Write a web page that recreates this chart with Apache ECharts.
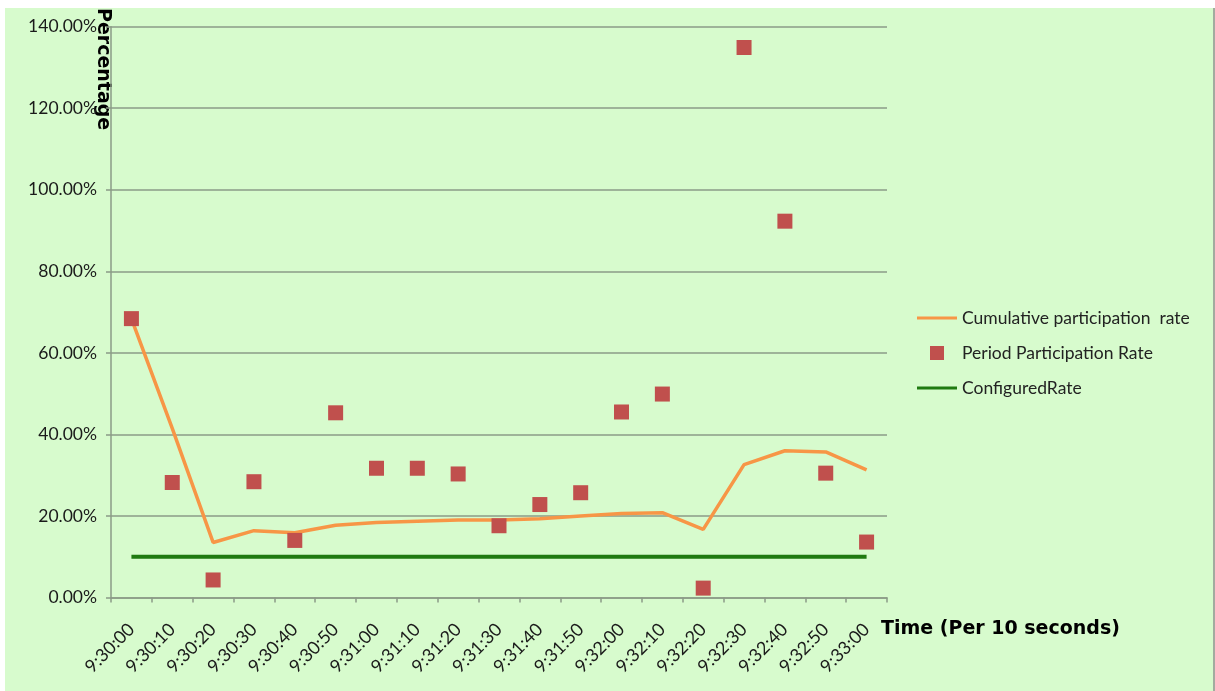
<!DOCTYPE html>
<html>
<head>
<meta charset="utf-8">
<script src="https://cdn.jsdelivr.net/npm/echarts@6/dist/echarts.min.js"></script>
<style>
  html, body { margin: 0; padding: 0; background: #ffffff; }
  #chart {
    position: absolute; left: 5px; top: 8px;
    width: 1208px; height: 683px;
    background: #d7fbcd;
    border-right: 2px solid #a3ab9f;
  }
</style>
</head>
<body>
<div id="chart"></div>
<script>
// Time buckets (10 s each)
const categories = ['9:30:00','9:30:10','9:30:20','9:30:30','9:30:40','9:30:50','9:31:00','9:31:10','9:31:20','9:31:30',
                    '9:31:40','9:31:50','9:32:00','9:32:10','9:32:20','9:32:30','9:32:40','9:32:50','9:33:00'];
// Participation rates, in percent
const cumulativeRate = [68.4, 41.5, 13.5, 16.4, 15.9, 17.7, 18.4, 18.7, 19.0, 19.0, 19.3, 20.0, 20.6, 20.8, 16.7, 32.6, 36.0, 35.7, 31.3];
const periodRate     = [68.4, 28.2, 4.3, 28.4, 14.0, 45.3, 31.7, 31.7, 30.3, 17.6, 22.8, 25.7, 45.5, 49.9, 2.3, 134.9, 92.3, 30.5, 13.6];
const configuredRate = [10, 10, 10, 10, 10, 10, 10, 10, 10, 10, 10, 10, 10, 10, 10, 10, 10, 10, 10];
// Value axis range and step (percent)
const yMin = 0, yMax = 140, yStep = 20;

const seriesNames = ['Cumulative participation  rate', 'Period Participation Rate', 'ConfiguredRate'];

const labelFont = 'Lato, "Open Sans", sans-serif';
const axisColor = '#8b9b87';

// legend glyphs: a flat bar for the lines, a small square for the points
const lineIcon = 'path://M0,0 L40,0 L40,3 L0,3 Z';
const squareIcon = 'path://M0,0 L1,0 L1,1 L0,1 Z';

const chart = echarts.init(document.getElementById('chart'));
chart.setOption({
  animation: false,
  grid: { left: 106, top: 18.7, right: 326, bottom: 93.5, containLabel: false },
  xAxis: {
    type: 'category',
    data: categories,
    boundaryGap: true,
    axisLine: { lineStyle: { color: axisColor, width: 1.5 } },
    axisTick: { show: true, length: 5, alignWithLabel: false, lineStyle: { color: axisColor, width: 1.5 } },
    axisLabel: {
      interval: 0, rotate: 45, margin: 29,
      fontFamily: labelFont, fontSize: 18, color: '#1a1a1a'
    },
    splitLine: { show: false }
  },
  yAxis: {
    type: 'value',
    min: yMin, max: yMax, interval: yStep,
    axisLine: { show: true, lineStyle: { color: axisColor, width: 1.5 } },
    axisTick: { show: true, length: 5, lineStyle: { color: axisColor, width: 1.5 } },
    axisLabel: {
      margin: 14, fontFamily: labelFont, fontSize: 17.5, color: '#1a1a1a',
      formatter: v => v.toFixed(2) + '%'
    },
    splitLine: { show: true, lineStyle: { color: axisColor, width: 1.5 } }
  },
  legend: {
    orient: 'vertical',
    left: 907, top: 296,
    itemWidth: 40, itemHeight: 14, itemGap: 17,
    textStyle: { fontFamily: labelFont, fontSize: 17.5, color: '#222222' },
    data: [
      { name: seriesNames[0], icon: lineIcon, itemStyle: { borderWidth: 0 }, lineStyle: { width: 0 } },
      { name: seriesNames[1], icon: squareIcon, itemStyle: { borderWidth: 0 } },
      { name: seriesNames[2], icon: lineIcon, itemStyle: { borderWidth: 0 }, lineStyle: { width: 0 } }
    ]
  },
  graphic: [
    {
      type: 'text',
      x: 98, y: 0,
      rotation: -Math.PI / 2,
      style: {
        text: 'Percentage',
        font: 'bold 19px "DejaVu Sans", sans-serif',
        fill: '#000000',
        textAlign: 'left', textVerticalAlign: 'middle'
      }
    },
    {
      type: 'text',
      x: 876, y: 621,
      style: {
        text: 'Time (Per 10 seconds)',
        font: 'bold 19px "DejaVu Sans", sans-serif',
        fill: '#000000',
        textAlign: 'left', textVerticalAlign: 'middle'
      }
    }
  ],
  series: [
    {
      name: seriesNames[2],
      type: 'line',
      data: configuredRate,
      symbol: 'none',
      lineStyle: { color: '#1f7a10', width: 4 },
      itemStyle: { color: '#1f7a10' },
      z: 2
    },
    {
      name: seriesNames[0],
      type: 'line',
      data: cumulativeRate,
      symbol: 'none',
      lineStyle: { color: '#f79646', width: 3.5 },
      itemStyle: { color: '#f79646' },
      z: 3
    },
    {
      name: seriesNames[1],
      type: 'scatter',
      data: periodRate,
      symbol: 'rect',
      symbolSize: 15,
      itemStyle: { color: '#c0504d', opacity: 1 },
      z: 4
    }
  ]
});
</script>
</body>
</html>
